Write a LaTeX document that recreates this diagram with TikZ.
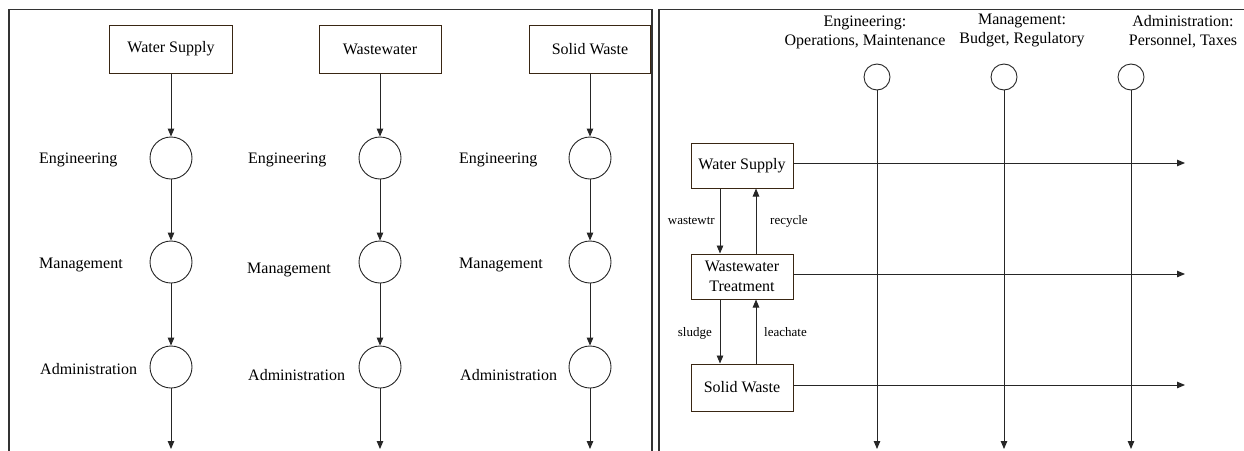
\documentclass[tikz,border=0pt]{standalone}
\usepackage{fontspec}
\setmainfont{Liberation Serif}
\usetikzlibrary{arrows.meta}
\begin{document}
\begin{tikzpicture}[x=1pt,y=-1pt,
  ln/.style={draw=black!85, line width=0.9pt},
  arr/.style={ln, -{Triangle[length=8pt,width=6.5pt]}},
  frame/.style={draw=black!80, line width=1.3pt},
  box/.style={draw=black!70!brown, line width=1pt, fill=white, inner sep=2pt, align=center, font=\fontsize{16}{20}\selectfont},
  bigc/.style={circle, ln, fill=white, minimum size=42pt, inner sep=0pt},
  smc/.style={circle, ln, fill=white, minimum size=26pt, inner sep=0pt},
  lbl/.style={font=\fontsize{16}{19}\selectfont, inner sep=0pt, anchor=west},
  slbl/.style={font=\fontsize{13}{15}\selectfont, inner sep=0pt},
  top/.style={font=\fontsize{16}{19}\selectfont, inner sep=0pt, align=center}]
\useasboundingbox (0,0) rectangle (1244,450);
\clip (0,0) rectangle (1244,450);
\fill[white] (0,0) rectangle (1244,450);
% frames
\draw[frame] (9,9.5) rectangle (652,480);
\draw[frame] (659,9.5) rectangle (1270,480);

% ---------- left panel ----------
\node[box, minimum width=123pt, minimum height=48pt] (ws1) at (171,49) {Water Supply};
\node[box, minimum width=122pt, minimum height=48pt] (ww1) at (380,49) {Wastewater};
\node[box, minimum width=121pt, minimum height=48pt] (sw1) at (590,49) {Solid Waste};

\foreach \c/\x in {a/171,b/380,c/590}{
  \node[bigc] (e\c) at (\x,158) {};
  \node[bigc] (m\c) at (\x,262) {};
  \node[bigc] (d\c) at (\x,367) {};
  \coordinate (z\c) at (\x,449);
}
\draw[arr] (ws1) -- (ea);
\draw[arr] (ww1) -- (eb);
\draw[arr] (sw1) -- (ec);
\foreach \c in {a,b,c}{
  \draw[arr] (e\c) -- (m\c);
  \draw[arr] (m\c) -- (d\c);
  \draw[arr] (d\c) -- (z\c);
}
\node[lbl] (le1) at (39,160) {Engineering};
\node[lbl] (lm1) at (39,265) {Management};
\node[lbl] (la1) at (40,369) {Administration};
\node[lbl] (le2) at (248,160) {Engineering};
\node[lbl] (lm2) at (247,270) {Management};
\node[lbl] (la2) at (248,375) {Administration};
\node[lbl] (le3) at (459,160) {Engineering};
\node[lbl] (lm3) at (459,265) {Management};
\node[lbl] (la3) at (460,375) {Administration};

% ---------- right panel ----------
\node[top] (t1) at (865,32) {Engineering:\\Operations, Maintenance};
\node[top] (t2) at (1022,30) {Management:\\Budget, Regulatory};
\node[top] (t3) at (1183,32) {Administration:\\Personnel, Taxes};

\node[smc] (c1) at (877,77) {};
\node[smc] (c2) at (1004,77) {};
\node[smc] (c3) at (1131,77) {};
\coordinate (b1) at (877,449);
\coordinate (b2) at (1004,449);
\coordinate (b3) at (1131,449);

\node[box, minimum width=102pt, minimum height=45pt] (WS) at (742,165.5) {Water Supply};
\node[box, minimum width=102pt, minimum height=45pt] (WT) at (742,276.5) {Wastewater\\Treatment};
\node[box, minimum width=102pt, minimum height=47pt] (SW) at (742,387.5) {Solid Waste};

\coordinate (h1) at (1185,163);
\coordinate (h2) at (1185,274);
\coordinate (h3) at (1185,385);

\draw[arr] (c1) -- (b1);
\draw[arr] (c2) -- (b2);
\draw[arr] (c3) -- (b3);
\draw[arr] (WS.east |- h1) -- (h1);
\draw[arr] (WT.east |- h2) -- (h2);
\draw[arr] (SW.east |- h3) -- (h3);

\draw[arr] ([xshift=-22pt]WS.south) -- ([xshift=-22pt]WT.north);
\draw[arr] ([xshift=14pt]WT.north) -- ([xshift=14pt]WS.south);
\draw[arr] ([xshift=-22pt]WT.south) -- ([xshift=-22pt]SW.north);
\draw[arr] ([xshift=14pt]SW.north) -- ([xshift=14pt]WT.south);

\node[slbl, anchor=east] (l1) at (715,221) {wastewtr};
\node[slbl, anchor=west] (l2) at (770,221) {recycle};
\node[slbl, anchor=east] (l3) at (712,333) {sludge};
\node[slbl, anchor=west] (l4) at (764,332) {leachate};
\end{tikzpicture}
\end{document}
